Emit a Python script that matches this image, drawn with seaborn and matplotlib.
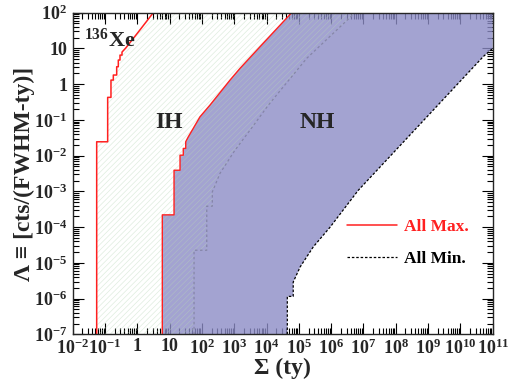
import numpy as np
import matplotlib
matplotlib.use("Agg")
import matplotlib.pyplot as plt
import seaborn as sns

# values (Sigma in ty, Lambda in cts/(FWHM-ty))
xe_max_sigma = [0.0553, 0.0553, 0.121, 0.121, 0.153, 0.153, 0.181, 0.181, 0.23, 0.23,
                0.258, 0.258, 0.291, 0.291, 0.336, 0.336, 0.437, 1.2, 3.13]
xe_max_lam = [1e-7, 0.0244, 0.0244, 0.427, 0.427, 1.30, 1.30, 1.80, 1.80, 3.07,
              3.07, 4.73, 4.73, 6.5, 6.5, 7.9, 10.2, 32.7, 100]

nh_max_sigma = [5.94, 5.94, 13.7, 13.7, 21, 21, 26.5, 26.5, 31.5, 31.5, 37.9, 54, 87,
                178, 741, 1510, 6300, 6.0e4]
nh_max_lam = [1e-7, 2.2e-4, 2.2e-4, 3.9e-3, 3.9e-3, 0.0103, 0.0103, 0.0159, 0.0159,
              0.0244, 0.0336, 0.058, 0.122, 0.26, 1.3, 2.77, 11.2, 100]

ih_min_sigma = [57, 57, 141, 141, 210, 210, 363, 1060, 3100, 11400, 1.76e5, 5.5e6]
ih_min_lam = [1e-7, 2.25e-5, 2.25e-5, 3.85e-4, 3.85e-4, 9.7e-4, 3.2e-3, 0.0143, 0.052,
              0.26, 5.3, 100]

nh_min_sigma = [4.4e4, 4.4e4, 6.7e4, 6.7e4, 1.1e5, 2.8e5, 9.3e5, 6.9e6, 5.1e10, 1e11]
nh_min_lam = [1e-7, 1.15e-6, 1.15e-6, 2.9e-6, 7.7e-6, 2.8e-5, 1e-4, 1.07e-3, 5.9, 10]

x_ticklabels = ["$10^{-2}$", "$10^{-1}$", "1", "10", "$10^{2}$", "$10^{3}$", "$10^{4}$",
                "$10^{5}$", "$10^{6}$", "$10^{7}$", "$10^{8}$", "$10^{9}$", "$10^{10}$",
                "$10^{11}$"]
y_ticklabels = ["$10^{-7}$", "$10^{-6}$", "$10^{-5}$", "$10^{-4}$", "$10^{-3}$",
                "$10^{-2}$", "$10^{-1}$", "1", "10", "$10^{2}$"]

XMIN, XMAX = 1e-2, 1e11
YMIN, YMAX = 1e-7, 1e2

sns.set_style("ticks")
plt.rcParams["font.family"] = ["Liberation Serif", "DejaVu Serif"]
plt.rcParams["font.weight"] = "bold"
plt.rcParams["axes.labelweight"] = "bold"
plt.rcParams["mathtext.fontset"] = "custom"
plt.rcParams["mathtext.rm"] = "Liberation Serif:bold"
plt.rcParams["mathtext.bf"] = "Liberation Serif:bold"
plt.rcParams["mathtext.it"] = "Liberation Serif:bold:italic"
plt.rcParams["hatch.linewidth"] = 0.5

fig = plt.figure(figsize=(5.13, 3.89), dpi=100)
ax = fig.add_axes([0.1417, 0.1406, 0.8187, 0.8268])
ax.set_xscale("log")
ax.set_yscale("log")
ax.set_axisbelow(True)

# NH band (blue)
blue_x = nh_max_sigma + [XMAX] + nh_min_sigma[::-1]
blue_y = nh_max_lam + [YMAX] + nh_min_lam[::-1]
ax.fill(blue_x, blue_y, color=(140/255, 140/255, 198/255), alpha=0.8, lw=0, zorder=1)

# IH band (hatched)
ih_x = xe_max_sigma + ih_min_sigma[::-1]
ih_y = xe_max_lam + ih_min_lam[::-1]
ax.fill(ih_x, ih_y, facecolor="none", edgecolor=(0.72, 0.84, 0.72, 0.45),
        hatch="//////", lw=0, zorder=2)

sns.lineplot(x=ih_min_sigma, y=ih_min_lam, sort=False, estimator=None, ax=ax,
             color="#8585a8", lw=0.9, linestyle=(0, (2, 2)), zorder=3)
sns.lineplot(x=nh_max_sigma, y=nh_max_lam, sort=False, estimator=None, ax=ax,
             color="#ff2020", lw=1.0, zorder=4)
sns.lineplot(x=xe_max_sigma, y=xe_max_lam, sort=False, estimator=None, ax=ax,
             color="#ff2020", lw=1.1, zorder=4, label="All Max.")
sns.lineplot(x=nh_min_sigma, y=nh_min_lam, sort=False, estimator=None, ax=ax,
             color="black", lw=0.9, linestyle=(0, (2, 1.5)), zorder=4, label="All Min.")

ax.set_xlim(XMIN, XMAX)
ax.set_ylim(YMIN, YMAX)

ax.set_xticks(10.0 ** np.arange(-2, 12))
ax.set_xticklabels(x_ticklabels)
ax.set_yticks(10.0 ** np.arange(-7, 3))
ax.set_yticklabels(y_ticklabels)
ax.xaxis.set_minor_locator(matplotlib.ticker.LogLocator(base=10, subs=np.arange(2, 10), numticks=50))
ax.yaxis.set_minor_locator(matplotlib.ticker.LogLocator(base=10, subs=np.arange(2, 10), numticks=50))
ax.xaxis.set_minor_formatter(matplotlib.ticker.NullFormatter())
ax.yaxis.set_minor_formatter(matplotlib.ticker.NullFormatter())
ax.tick_params(which="both", direction="in", top=True, right=True, labelsize=13,
               color="black", width=0.8)
ax.tick_params(which="major", length=8)
ax.tick_params(axis="x", which="major", pad=3)
ax.tick_params(axis="y", which="major", pad=4)
ax.tick_params(which="minor", length=4)
for s in ax.spines.values():
    s.set_linewidth(1.0)
    s.set_zorder(5)

ax.set_xlabel("Σ (ty)", fontsize=17, labelpad=0)
ax.set_ylabel("Λ ≡ [cts/(FWHM-ty)]", fontsize=17, labelpad=-1)

ax.text(0.028, 0.894, r"$^{136}$Xe", transform=ax.transAxes, fontsize=16, ha="left",
        va="baseline", zorder=6)
ax.text(0.229, 0.641, "IH", transform=ax.transAxes, fontsize=17, ha="center",
        va="baseline", zorder=6)
ax.text(0.582, 0.641, "NH", transform=ax.transAxes, fontsize=17, ha="center",
        va="baseline", zorder=6)

leg = ax.legend(loc="upper left", bbox_to_anchor=(0.652, 0.36), frameon=False,
                fontsize=12.5, handlelength=2.9, handletextpad=0.4, labelspacing=0.95,
                borderpad=0, borderaxespad=0, labelcolor="linecolor")

fig.savefig("out.png", dpi=100)
